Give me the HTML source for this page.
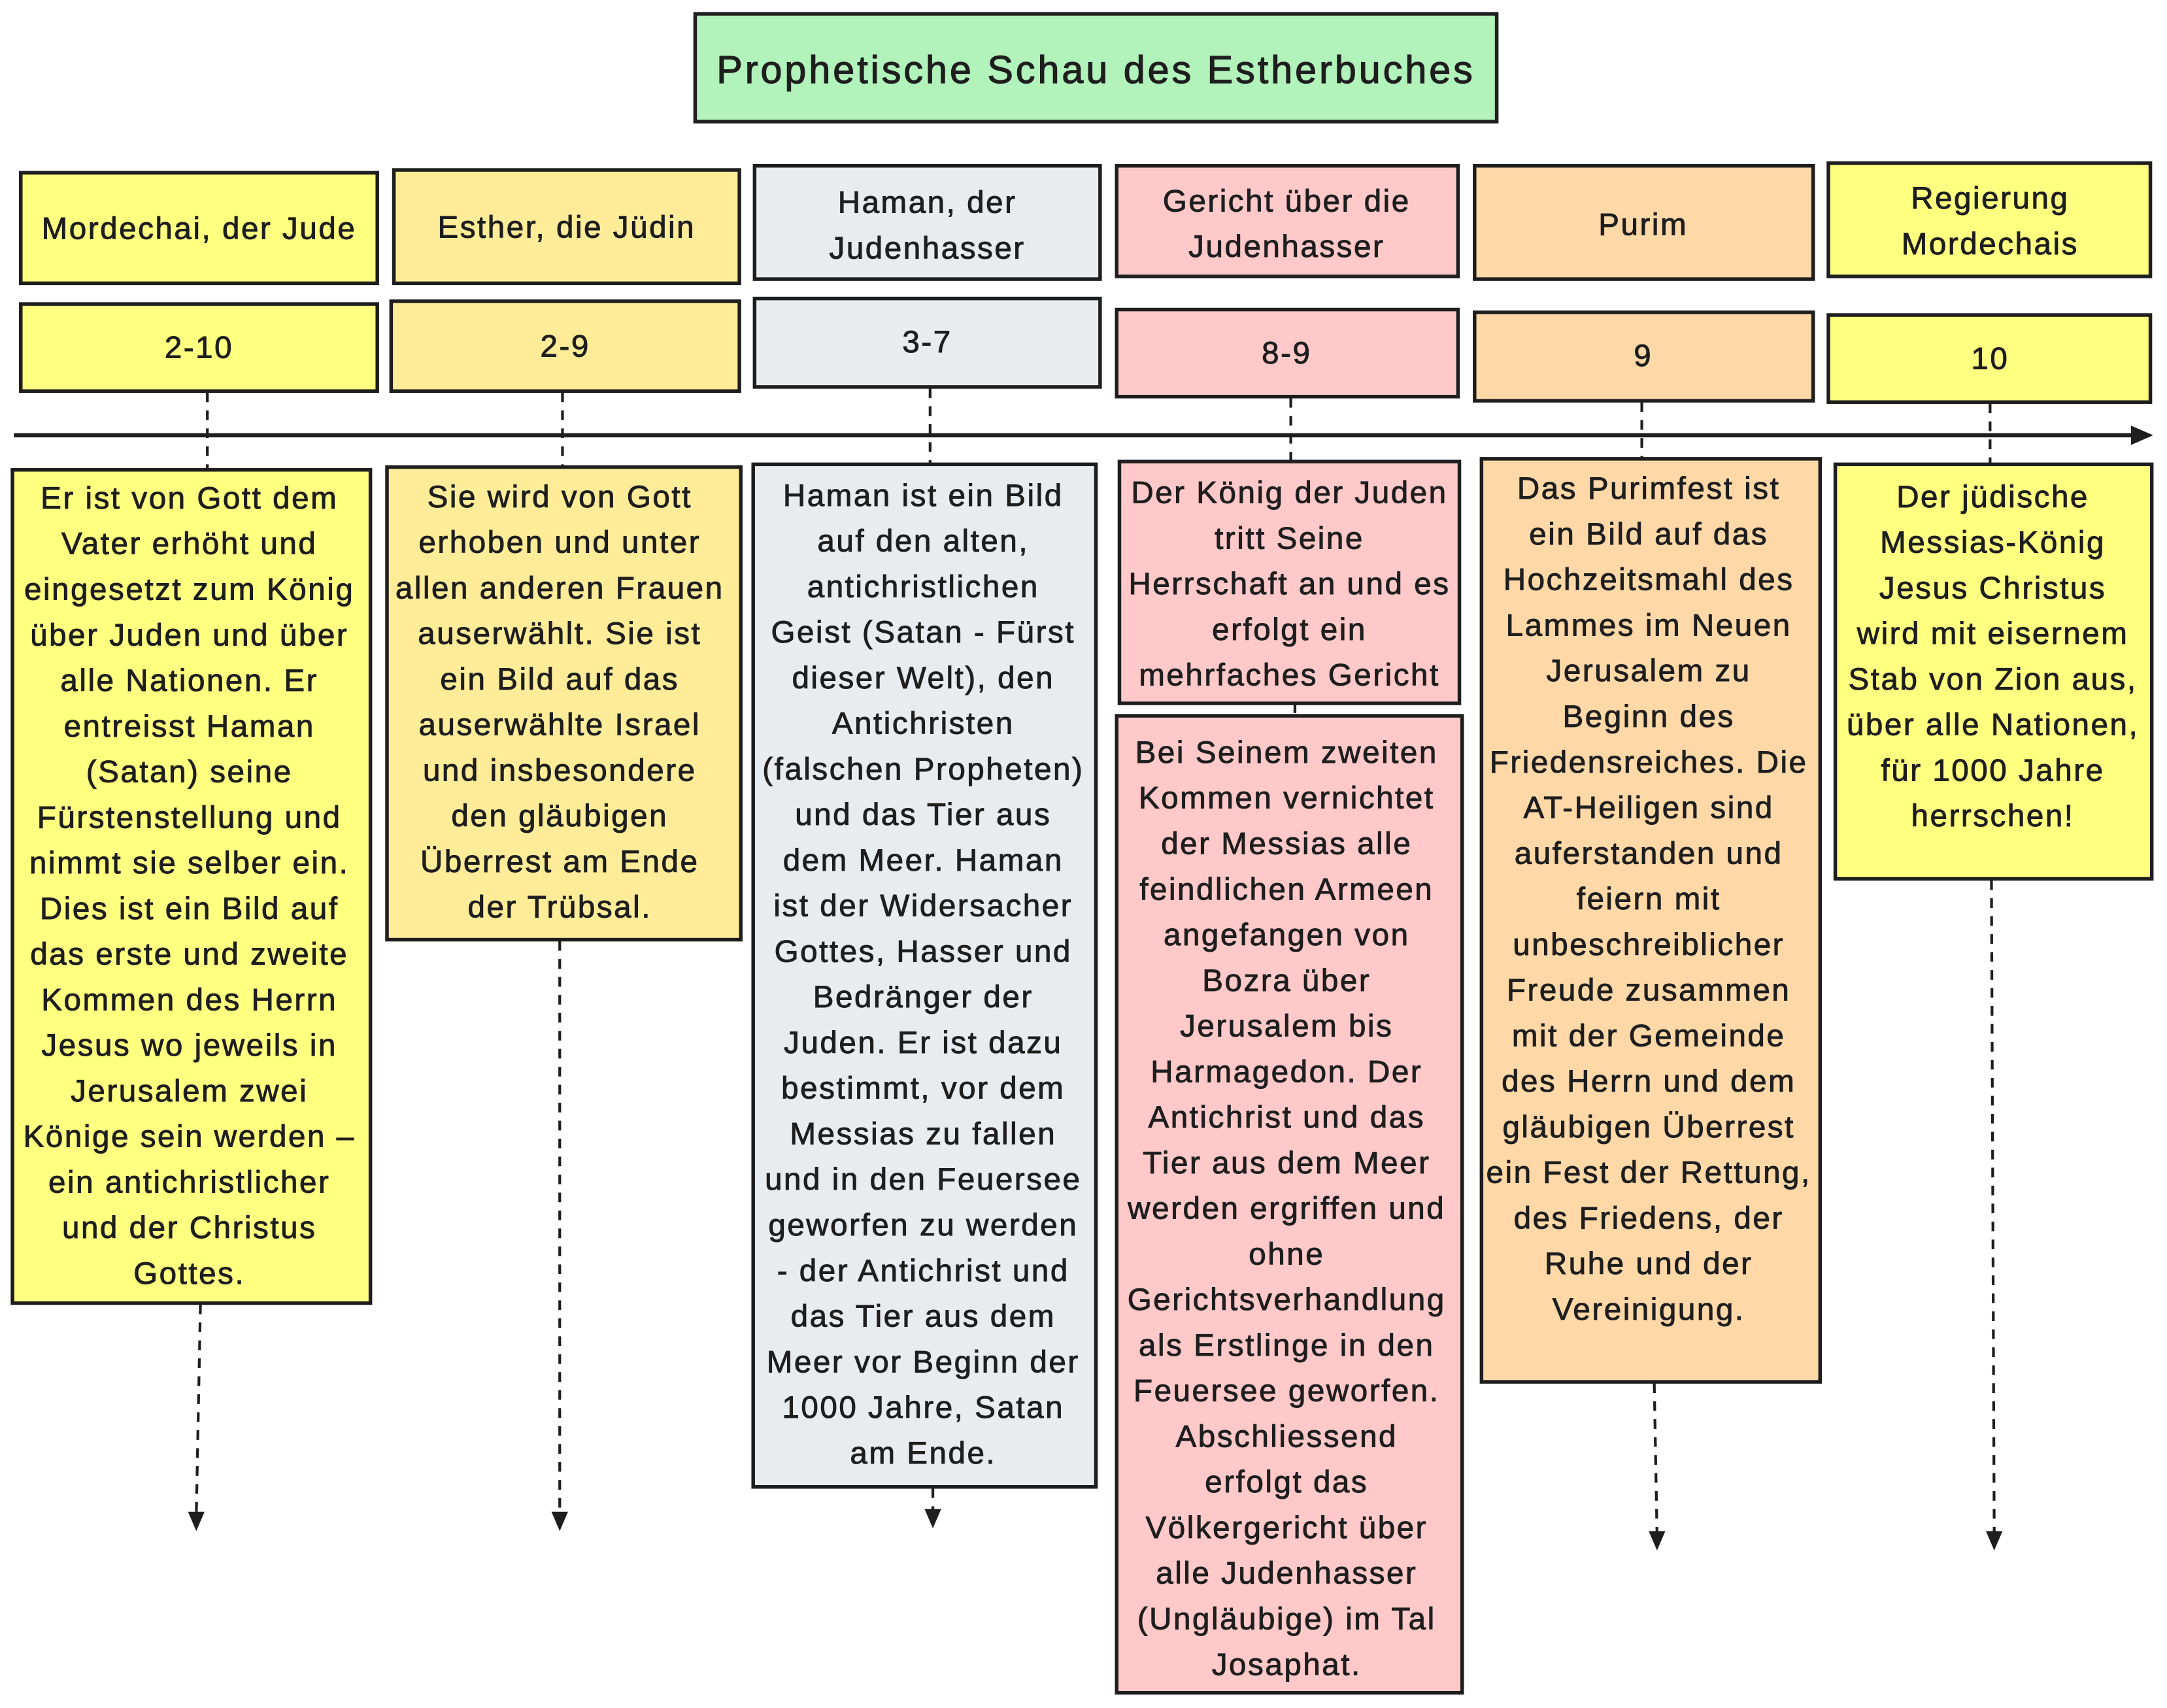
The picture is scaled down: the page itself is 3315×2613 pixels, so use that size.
<!DOCTYPE html>
<html><head><meta charset="utf-8">
<style>
html,body{margin:0;padding:0;background:#fff;}
svg{display:block;}
text{font-family:"Liberation Sans",sans-serif;font-size:22.5px;letter-spacing:1.2px;fill:#1e1e1e;stroke:#1e1e1e;stroke-width:0.45;text-anchor:middle;}
.b{stroke:#1e1e1e;stroke-width:2.6;}
.d{stroke:#1e1e1e;stroke-width:2;stroke-dasharray:7 6;fill:none;}
</style></head><body>
<svg width="3315" height="2613" viewBox="0 0 1568 1236" xmlns="http://www.w3.org/2000/svg">
<rect width="1568" height="1236" fill="#fff"/>
<!-- title -->
<rect class="b" x="503" y="10" width="580" height="78" fill="#b2f2bb"/>
<text x="793" y="60" style="font-size:28px;letter-spacing:1.9px;stroke-width:0.6">Prophetische Schau des Estherbuches</text>
<!-- headers -->
<rect class="b" x="15" y="125" width="258" height="80" fill="#ffff80"/>
<text x="144" y="173">Mordechai, der Jude</text>
<rect class="b" x="285" y="123" width="250" height="82" fill="#ffec99"/>
<text x="410" y="172">Esther, die Jüdin</text>
<rect class="b" x="546" y="120" width="250" height="82" fill="#e9ecef"/>
<text x="671" y="154">Haman, der</text><text x="671" y="187">Judenhasser</text>
<rect class="b" x="808" y="120" width="247" height="80" fill="#ffc9c9"/>
<text x="931" y="153">Gericht über die</text><text x="931" y="186">Judenhasser</text>
<rect class="b" x="1067" y="120" width="245" height="82" fill="#ffd8a8"/>
<text x="1189" y="170">Purim</text>
<rect class="b" x="1323" y="118" width="233" height="82" fill="#ffff80"/>
<text x="1440" y="151">Regierung</text><text x="1440" y="184">Mordechais</text>
<!-- row2 -->
<rect class="b" x="15" y="220" width="258" height="63" fill="#ffff80"/><text x="144" y="259">2-10</text>
<rect class="b" x="283" y="218" width="252" height="65" fill="#ffec99"/><text x="409" y="258">2-9</text>
<rect class="b" x="546" y="216" width="250" height="64" fill="#e9ecef"/><text x="671" y="255">3-7</text>
<rect class="b" x="808" y="224" width="247" height="63" fill="#ffc9c9"/><text x="931" y="263">8-9</text>
<rect class="b" x="1067" y="226" width="245" height="64" fill="#ffd8a8"/><text x="1189" y="265">9</text>
<rect class="b" x="1323" y="228" width="233" height="63" fill="#ffff80"/><text x="1440" y="267">10</text>
<!-- connectors -->
<path class="d" d="M150 284V340M407 284V338M673 281V336M934 288V334M1188 291V332M1440 292V336M937 509V518"/>
<line x1="10" y1="315" x2="1545" y2="315" stroke="#1e1e1e" stroke-width="3"/>
<path d="M1542 308L1558 315L1542 322z" fill="#1e1e1e"/>
<path class="d" d="M145 944L142 1097"/><path d="M136 1094h12l-6 14z" fill="#1e1e1e"/>
<path class="d" d="M405 681V1097"/><path d="M399 1094h12l-6 14z" fill="#1e1e1e"/>
<path class="d" d="M675 1077V1094"/><path d="M669 1092h12l-6 14z" fill="#1e1e1e"/>
<path class="d" d="M1197 1001L1199 1110"/><path d="M1193 1108h12l-6 14z" fill="#1e1e1e"/>
<path class="d" d="M1441 637L1443 1110"/><path d="M1437 1108h12l-6 14z" fill="#1e1e1e"/>
<!-- text boxes -->
<rect class="b" x="9" y="340" width="259" height="603" fill="#ffff80"/>
<text><tspan x="137" y="368">Er ist von Gott dem</tspan><tspan x="137" dy="33">Vater erhöht und</tspan><tspan x="137" dy="33">eingesetzt zum König</tspan><tspan x="137" dy="33">über Juden und über</tspan><tspan x="137" dy="33">alle Nationen. Er</tspan><tspan x="137" dy="33">entreisst Haman</tspan><tspan x="137" dy="33">(Satan) seine</tspan><tspan x="137" dy="33">Fürstenstellung und</tspan><tspan x="137" dy="33">nimmt sie selber ein.</tspan><tspan x="137" dy="33">Dies ist ein Bild auf</tspan><tspan x="137" dy="33">das erste und zweite</tspan><tspan x="137" dy="33">Kommen des Herrn</tspan><tspan x="137" dy="33">Jesus wo jeweils in</tspan><tspan x="137" dy="33">Jerusalem zwei</tspan><tspan x="137" dy="33">Könige sein werden –</tspan><tspan x="137" dy="33">ein antichristlicher</tspan><tspan x="137" dy="33">und der Christus</tspan><tspan x="137" dy="33">Gottes.</tspan></text>
<rect class="b" x="280" y="338" width="256" height="342" fill="#ffec99"/>
<text><tspan x="405" y="367">Sie wird von Gott</tspan><tspan x="405" dy="33">erhoben und unter</tspan><tspan x="405" dy="33">allen anderen Frauen</tspan><tspan x="405" dy="33">auserwählt. Sie ist</tspan><tspan x="405" dy="33">ein Bild auf das</tspan><tspan x="405" dy="33">auserwählte Israel</tspan><tspan x="405" dy="33">und insbesondere</tspan><tspan x="405" dy="33">den gläubigen</tspan><tspan x="405" dy="33">Überrest am Ende</tspan><tspan x="405" dy="33">der Trübsal.</tspan></text>
<rect class="b" x="545" y="336" width="248" height="740" fill="#e9ecef"/>
<text><tspan x="668" y="366">Haman ist ein Bild</tspan><tspan x="668" dy="33">auf den alten,</tspan><tspan x="668" dy="33">antichristlichen</tspan><tspan x="668" dy="33">Geist (Satan - Fürst</tspan><tspan x="668" dy="33">dieser Welt), den</tspan><tspan x="668" dy="33">Antichristen</tspan><tspan x="668" dy="33">(falschen Propheten)</tspan><tspan x="668" dy="33">und das Tier aus</tspan><tspan x="668" dy="33">dem Meer. Haman</tspan><tspan x="668" dy="33">ist der Widersacher</tspan><tspan x="668" dy="33">Gottes, Hasser und</tspan><tspan x="668" dy="33">Bedränger der</tspan><tspan x="668" dy="33">Juden. Er ist dazu</tspan><tspan x="668" dy="33">bestimmt, vor dem</tspan><tspan x="668" dy="33">Messias zu fallen</tspan><tspan x="668" dy="33">und in den Feuersee</tspan><tspan x="668" dy="33">geworfen zu werden</tspan><tspan x="668" dy="33">- der Antichrist und</tspan><tspan x="668" dy="33">das Tier aus dem</tspan><tspan x="668" dy="33">Meer vor Beginn der</tspan><tspan x="668" dy="33">1000 Jahre, Satan</tspan><tspan x="668" dy="33">am  Ende.</tspan></text>
<rect class="b" x="810" y="334" width="246" height="175" fill="#ffc9c9"/>
<text><tspan x="933" y="364">Der König der Juden</tspan><tspan x="933" dy="33">tritt Seine</tspan><tspan x="933" dy="33">Herrschaft an und es</tspan><tspan x="933" dy="33">erfolgt ein</tspan><tspan x="933" dy="33">mehrfaches Gericht</tspan></text>
<rect class="b" x="808" y="518" width="250" height="707" fill="#ffc9c9"/>
<text><tspan x="931" y="552">Bei Seinem zweiten</tspan><tspan x="931" dy="33">Kommen vernichtet</tspan><tspan x="931" dy="33">der Messias alle</tspan><tspan x="931" dy="33">feindlichen Armeen</tspan><tspan x="931" dy="33">angefangen von</tspan><tspan x="931" dy="33">Bozra über</tspan><tspan x="931" dy="33">Jerusalem bis</tspan><tspan x="931" dy="33">Harmagedon. Der</tspan><tspan x="931" dy="33">Antichrist und das</tspan><tspan x="931" dy="33">Tier aus dem Meer</tspan><tspan x="931" dy="33">werden ergriffen und</tspan><tspan x="931" dy="33">ohne</tspan><tspan x="931" dy="33">Gerichtsverhandlung</tspan><tspan x="931" dy="33">als Erstlinge in den</tspan><tspan x="931" dy="33">Feuersee geworfen.</tspan><tspan x="931" dy="33">Abschliessend</tspan><tspan x="931" dy="33">erfolgt das</tspan><tspan x="931" dy="33">Völkergericht über</tspan><tspan x="931" dy="33">alle Judenhasser</tspan><tspan x="931" dy="33">(Ungläubige) im Tal</tspan><tspan x="931" dy="33">Josaphat.</tspan></text>
<rect class="b" x="1072" y="332" width="245" height="668" fill="#ffd8a8"/>
<text><tspan x="1193" y="361">Das Purimfest ist</tspan><tspan x="1193" dy="33">ein Bild auf das</tspan><tspan x="1193" dy="33">Hochzeitsmahl des</tspan><tspan x="1193" dy="33">Lammes im Neuen</tspan><tspan x="1193" dy="33">Jerusalem zu</tspan><tspan x="1193" dy="33">Beginn des</tspan><tspan x="1193" dy="33">Friedensreiches. Die</tspan><tspan x="1193" dy="33">AT-Heiligen sind</tspan><tspan x="1193" dy="33">auferstanden und</tspan><tspan x="1193" dy="33">feiern mit</tspan><tspan x="1193" dy="33">unbeschreiblicher</tspan><tspan x="1193" dy="33">Freude zusammen</tspan><tspan x="1193" dy="33">mit der Gemeinde</tspan><tspan x="1193" dy="33">des Herrn und dem</tspan><tspan x="1193" dy="33">gläubigen Überrest</tspan><tspan x="1193" dy="33">ein Fest der Rettung,</tspan><tspan x="1193" dy="33">des Friedens, der</tspan><tspan x="1193" dy="33">Ruhe und der</tspan><tspan x="1193" dy="33">Vereinigung.</tspan></text>
<rect class="b" x="1328" y="336" width="229" height="300" fill="#ffff80"/>
<text><tspan x="1442" y="367">Der jüdische</tspan><tspan x="1442" dy="33">Messias-König</tspan><tspan x="1442" dy="33">Jesus Christus</tspan><tspan x="1442" dy="33">wird mit eisernem</tspan><tspan x="1442" dy="33">Stab von Zion aus,</tspan><tspan x="1442" dy="33">über alle Nationen,</tspan><tspan x="1442" dy="33">für 1000 Jahre</tspan><tspan x="1442" dy="33">herrschen!</tspan></text>
</svg>
</body></html>
